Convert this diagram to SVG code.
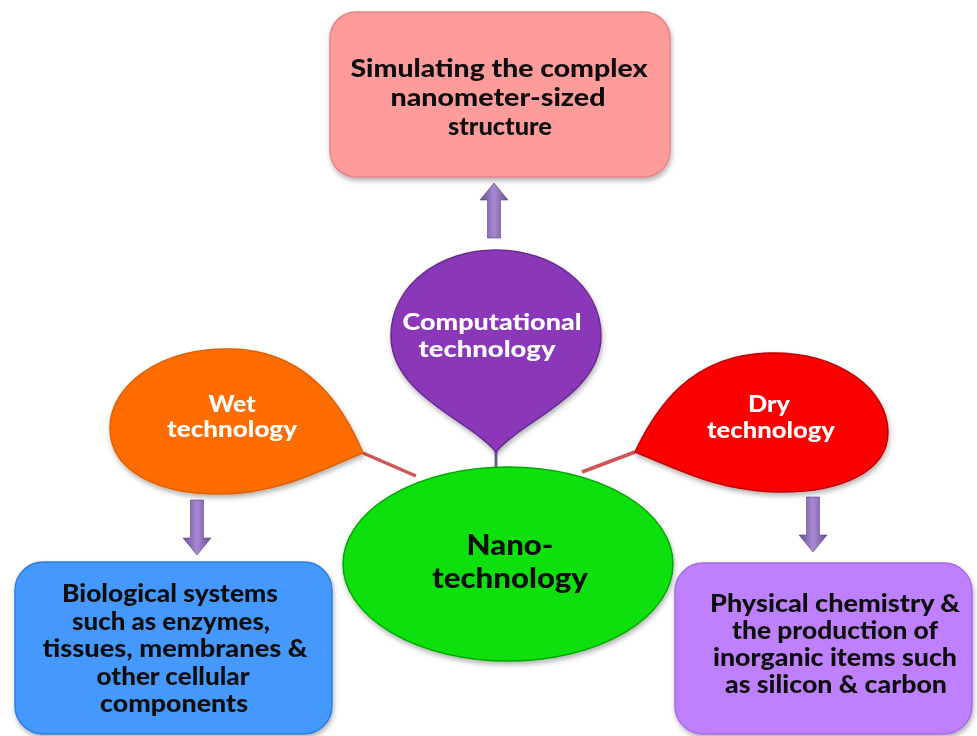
<svg xmlns="http://www.w3.org/2000/svg" width="977" height="736" viewBox="0 0 977 736">
  <defs>
    <filter id="shadow" x="-10%" y="-10%" width="120%" height="130%">
      <feDropShadow dx="1" dy="3" stdDeviation="2.5" flood-color="#000" flood-opacity="0.3"/>
    </filter>
    <linearGradient id="arrowFill" x1="0" y1="0" x2="1" y2="0">
      <stop offset="0" stop-color="#6c4a98"/>
      <stop offset="0.5" stop-color="#a88ad0"/>
      <stop offset="1" stop-color="#6c4a98"/>
    </linearGradient>
    <path id="arrowDown" d="M-6.5,0 H6.5 V38 H14 L0,55 L-14,38 H-6.5 Z"/>
  </defs>
  <style>
    .lbl { font-family: Lato, "Open Sans", "Liberation Sans", sans-serif; font-weight: 900; text-anchor: middle; }
    .dark { fill: #111; font-size: 24px; }
    .light { fill: #fff; font-size: 22px; }
    .big { font-size: 28px; }
    .link { stroke: #d05454; stroke-width: 3.5; fill: none; }
    .stem { stroke: #6e5c9a; stroke-width: 3; fill: none; }
    .arrow { fill: url(#arrowFill); stroke: #5e4288; stroke-width: 0.6; }
  </style>
  <rect width="977" height="736" fill="#ffffff"/>

  <!-- connectors -->
  <g id="connectors">
    <line class="link" x1="363" y1="453" x2="416" y2="476"/>
    <line class="link" x1="635" y1="452" x2="582" y2="472"/>
    <line class="stem" x1="496" y1="450" x2="496" y2="467"/>
    <use href="#arrowDown" class="arrow" transform="translate(494,238) rotate(180)"/>
    <use href="#arrowDown" class="arrow" transform="translate(197,500)"/>
    <use href="#arrowDown" class="arrow" transform="translate(813,497)"/>
  </g>

  <g id="simulation" filter="url(#shadow)">
    <rect x="330" y="12" width="340" height="165" rx="26" fill="#fe9b9b" stroke="#e48585" stroke-width="1.5"/>
    <text class="lbl dark" x="499" y="77" textLength="297" lengthAdjust="spacingAndGlyphs">Simulating the complex</text>
    <text class="lbl dark" x="498" y="106" textLength="215" lengthAdjust="spacingAndGlyphs">nanometer-sized</text>
    <text class="lbl dark" x="500" y="135" textLength="104" lengthAdjust="spacingAndGlyphs">structure</text>
  </g>

  <g id="computational" filter="url(#shadow)">
    <path d="M496,452 C470,420 391,395 391,336 C391,285 440,250 496,250 C552,250 601,285 601,336 C601,395 522,420 496,452 Z" fill="#8b38b8" stroke="#6a2a92" stroke-width="1.5"/>
    <text class="lbl light" x="492" y="330" textLength="179" lengthAdjust="spacingAndGlyphs">Computational</text>
    <text class="lbl light" x="487" y="357" textLength="137" lengthAdjust="spacingAndGlyphs">technology</text>
  </g>

  <g id="wet" filter="url(#shadow)">
    <path d="M363,453 C345,410 310,350 230,349 C160,348 110,385 110,428 C110,472 160,495 222,494 C282,493 320,470 363,453 Z" fill="#ff6d02" stroke="#e06000" stroke-width="1.5"/>
    <text class="lbl light" x="232" y="412" textLength="47" lengthAdjust="spacingAndGlyphs">Wet</text>
    <text class="lbl light" x="232" y="437" textLength="130" lengthAdjust="spacingAndGlyphs">technology</text>
  </g>

  <g id="dry" filter="url(#shadow)">
    <path d="M635,452 C655,410 690,354 770,353 C840,352 888,390 888,432 C888,472 840,493 778,492 C718,491 680,470 635,452 Z" fill="#fc0000" stroke="#c20000" stroke-width="1.5"/>
    <text class="lbl light" x="769" y="412" textLength="42" lengthAdjust="spacingAndGlyphs">Dry</text>
    <text class="lbl light" x="771" y="438" textLength="128" lengthAdjust="spacingAndGlyphs">technology</text>
  </g>

  <g id="nanotechnology" filter="url(#shadow)">
    <ellipse cx="508" cy="564" rx="165" ry="97" fill="#0ee00e" stroke="#05a805" stroke-width="1.5"/>
    <text class="lbl dark big" x="510" y="555" textLength="87" lengthAdjust="spacingAndGlyphs">Nano-</text>
    <text class="lbl dark big" x="510" y="588" textLength="156" lengthAdjust="spacingAndGlyphs">technology</text>
  </g>

  <g id="biological" filter="url(#shadow)">
    <rect x="15" y="562" width="317" height="172" rx="28" fill="#4499fe" stroke="#2f7fe0" stroke-width="1.5"/>
    <text class="lbl dark" x="170" y="602" textLength="216" lengthAdjust="spacingAndGlyphs">Biological systems</text>
    <text class="lbl dark" x="171" y="629.5" textLength="198" lengthAdjust="spacingAndGlyphs">such as enzymes,</text>
    <text class="lbl dark" x="175" y="657" textLength="265" lengthAdjust="spacingAndGlyphs">tissues, membranes &amp;</text>
    <text class="lbl dark" x="173" y="685" textLength="153" lengthAdjust="spacingAndGlyphs">other cellular</text>
    <text class="lbl dark" x="174" y="712" textLength="148" lengthAdjust="spacingAndGlyphs">components</text>
  </g>

  <g id="physical" filter="url(#shadow)">
    <rect x="675" y="563" width="297" height="171" rx="28" fill="#bf80fd" stroke="#a868e8" stroke-width="1.5"/>
    <text class="lbl dark" x="835" y="612" textLength="250" lengthAdjust="spacingAndGlyphs">Physical chemistry &amp;</text>
    <text class="lbl dark" x="835" y="639" textLength="206" lengthAdjust="spacingAndGlyphs">the production of</text>
    <text class="lbl dark" x="835" y="666" textLength="244" lengthAdjust="spacingAndGlyphs">inorganic items such</text>
    <text class="lbl dark" x="836" y="693" textLength="222" lengthAdjust="spacingAndGlyphs">as silicon &amp; carbon</text>
  </g>
</svg>
